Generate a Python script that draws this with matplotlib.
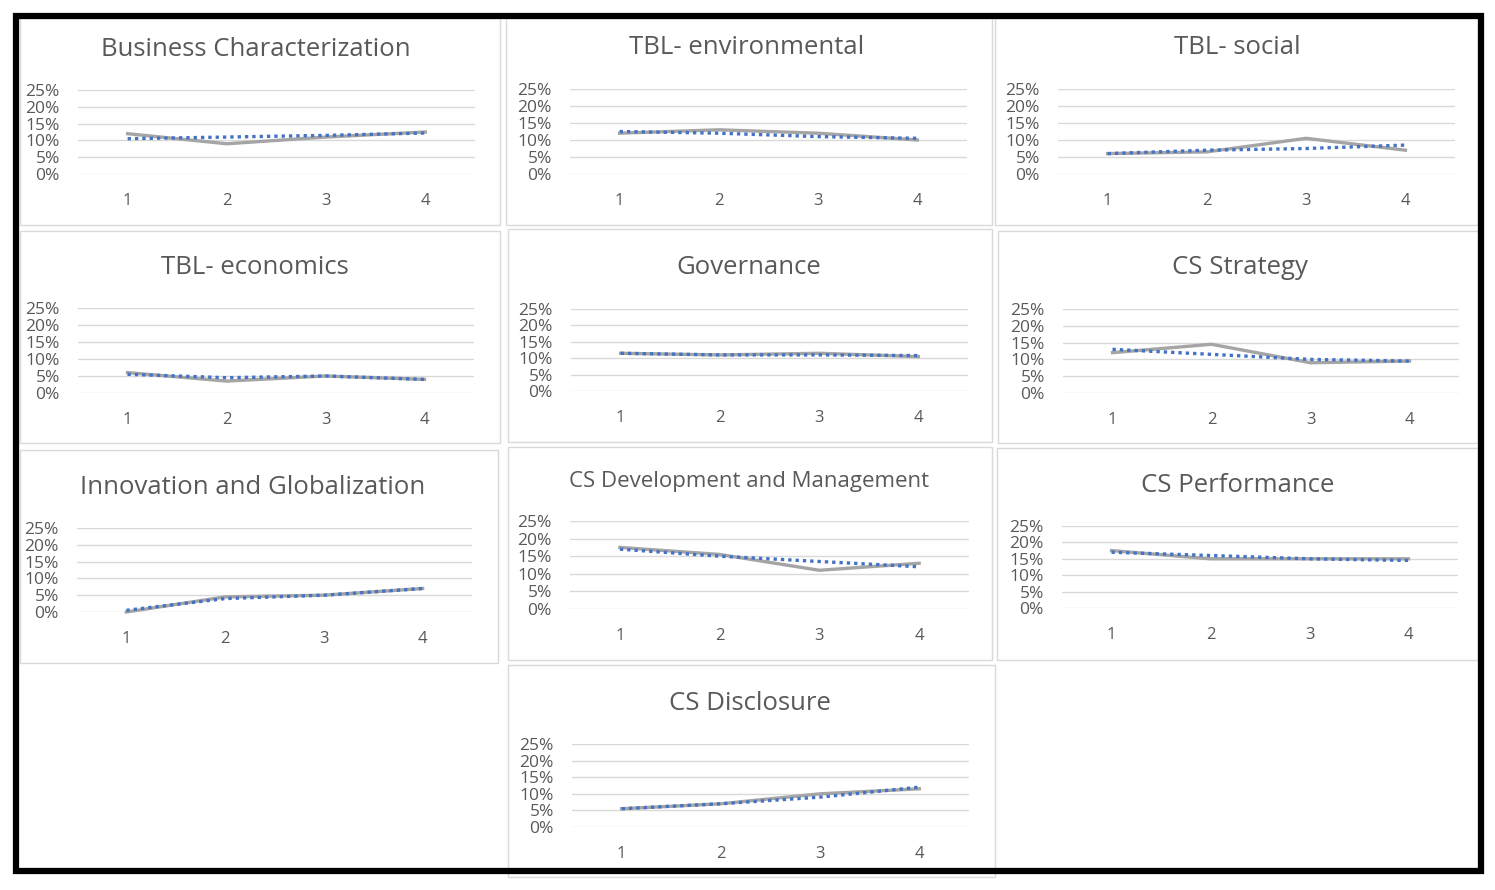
import numpy as np
import matplotlib.pyplot as plt
from matplotlib.patches import Rectangle
from matplotlib.ticker import FuncFormatter

plt.rcParams['font.family'] = ['Open Sans', 'DejaVu Sans']

W, H = 1495, 890

x = [1, 2, 3, 4]
titles = ["Business Characterization", "TBL- environmental", "TBL- social",
          "TBL- economics", "Governance", "CS Strategy",
          "Innovation and Globalization", "CS Development and Management", "CS Performance",
          "CS Disclosure"]

# gray solid series and blue dotted series, in %
gray = [[12, 9, 11, 12.5],
        [12, 13, 12, 10],
        [6, 6.5, 10.5, 7],
        [6, 3.5, 5, 4],
        [11.5, 11, 11.5, 10.5],
        [12, 14.5, 9, 9.5],
        [0, 4.5, 5, 7],
        [17.5, 15.5, 11, 13],
        [17.5, 15, 15, 15],
        [5.5, 7, 10, 11.5]]
blue = [[10.5, 11, 11.5, 12.2],
        [12.5, 12, 11, 10.5],
        [6, 7, 7.5, 8.5],
        [5.5, 4.5, 5, 4],
        [11.5, 11, 11, 10.8],
        [13, 11.5, 10, 9.5],
        [0.5, 4, 5, 7],
        [17, 15, 13.5, 12],
        [17, 16, 15, 14.5],
        [5.5, 7, 9, 12]]
yticks = [0, 5, 10, 15, 20, 25]

# layout in pixels: panel box (l, t, r, b), plot area (l, t, r, b), title (x, y)
panels = [(20, 18, 500, 225), (506, 18, 992, 225), (995, 18, 1478, 225),
          (20, 231, 500, 443), (508, 229, 992, 442), (998, 231, 1478, 443),
          (20, 450, 498, 663), (508, 447, 992, 660), (997, 448, 1478, 660),
          (508, 665, 995, 877)]
plots = [(78, 90, 475, 174), (570, 89, 967, 174), (1058, 89, 1455, 174),
         (78, 308, 474, 393), (571, 309, 968, 391), (1063, 309, 1459, 393),
         (77, 528, 472, 612), (570, 521, 969, 609), (1062, 526, 1458, 608),
         (572, 744, 969, 827)]
tpos = [(256, 50), (747, 48), (1237, 48), (255, 268), (749, 268), (1240, 268),
        (253, 487), (749, 482), (1238, 485), (750, 703)]
tsize = [18.5, 18.5, 18.5, 18.5, 18.5, 18.5, 18.5, 16, 18.5, 18.5]

txtc = '#595959'
fig = plt.figure(figsize=(W / 100, H / 100), dpi=100)

bg = fig.add_axes([0, 0, 1, 1], zorder=0)
bg.set_xlim(0, W)
bg.set_ylim(H, 0)
bg.axis('off')

for i in range(len(titles)):
    l, t, r, b = panels[i]
    bg.add_patch(Rectangle((l, t), r - l, b - t, fill=False, ec='#D9D9D9', lw=1))
    bg.text(tpos[i][0], tpos[i][1], titles[i], ha='center', va='center',
            fontsize=tsize[i], color=txtc)

    pl, pt, pr, pb = plots[i]
    ax = fig.add_axes([pl / W, 1 - pb / H, (pr - pl) / W, (pb - pt) / H], zorder=1)
    ax.patch.set_alpha(0)
    ax.plot(x, gray[i], color='#A5A5A5', lw=2.4, clip_on=False, zorder=3)
    ax.plot(x, blue[i], color='#4472C4', lw=2.4, ls=(0, (1, 1.2)),
            dash_capstyle='butt', clip_on=False, zorder=4)
    ax.set_xlim(0.5, 4.5)
    ax.set_ylim(0, 25)
    ax.set_yticks(yticks)
    ax.yaxis.set_major_formatter(FuncFormatter(lambda v, p: '%d%%' % v))
    ax.set_xticks(x)
    ax.grid(axis='y', color='#D9D9D9', lw=1)
    ax.set_axisbelow(True)
    for s in ax.spines.values():
        s.set_visible(False)
    ax.tick_params(axis='y', length=0, pad=13, labelsize=12.5, labelcolor=txtc)
    ax.tick_params(axis='x', length=0, pad=14, labelsize=12, labelcolor=txtc)

# thick black frame
bg.add_patch(Rectangle((16, 16), 1465, 855, fill=False, ec='black', lw=4.5, zorder=10))

plt.savefig('out.png', dpi=100)
